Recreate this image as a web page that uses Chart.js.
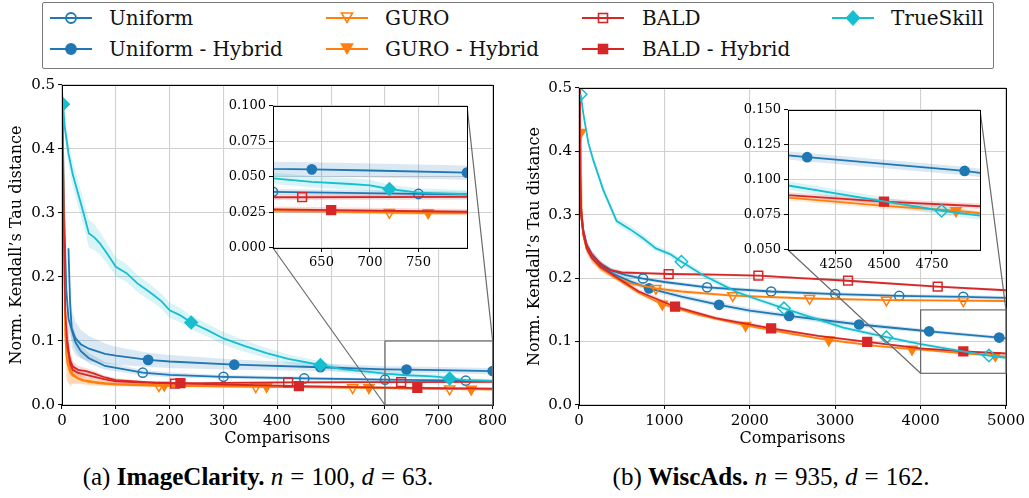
<!DOCTYPE html>
<html><head><meta charset="utf-8">
<script src="https://cdn.jsdelivr.net/npm/chart.js@4.4.1/dist/chart.umd.min.js"></script>
<style>
html,body{margin:0;padding:0;background:#fff;}
body{width:1029px;height:498px;overflow:hidden;position:relative;font-family:'DejaVu Serif',serif;}
canvas{position:absolute;}
#legend{position:absolute;left:42px;top:2px;width:952px;height:67px;border:1.3px solid #7a7a7a;box-sizing:border-box;border-radius:2px;background:#fff;}
.lgi{position:absolute;height:24px;display:flex;align-items:center;}
.lgt{position:absolute;font-family:'DejaVu Serif';font-size:20px;line-height:24px;color:#111;white-space:nowrap;}
.cap{position:absolute;top:463px;font-family:'Liberation Serif';font-size:25px;line-height:28px;white-space:nowrap;transform:translateX(-50%);color:#000;}
.eq{margin:0 0.28em;}
</style></head><body>
<div id="legend"></div>
<canvas id="icMain" style="left:0;top:72px" width="510" height="378"></canvas>
<canvas id="waMain" style="left:515px;top:72px" width="514" height="378"></canvas>
<canvas id="icInset" style="left:220px;top:95px" width="255" height="180"></canvas>
<canvas id="waInset" style="left:735px;top:99px" width="253" height="180"></canvas>
<div class="cap" style="left:258px">(a) <b>ImageClarity.</b> <i>n</i><span class="eq">=</span>100, <i>d</i><span class="eq">=</span>63.</div>
<div class="cap" style="left:771px">(b) <b>WiscAds.</b> <i>n</i><span class="eq">=</span>935, <i>d</i><span class="eq">=</span>162.</div>
<script>
// ---------- labels ----------
const SERIES_NAMES = ['Uniform','Uniform - Hybrid','GURO','GURO - Hybrid','BALD','BALD - Hybrid','TrueSkill'];
const X_TITLE = 'Comparisons';
const Y_TITLE = 'Norm. Kendall\u2019s Tau distance';

// ---------- ImageClarity (left) ----------
const IC_X_TICKS = [0,100,200,300,400,500,600,700,800];
const IC_Y_TICKS = [0,0.1,0.2,0.3,0.4,0.5];
const IC_INSET_X = [600,800];
const IC_INSET_Y = [0,0.1];
const IC_INSET_X_TICKS = [650,700,750];
const IC_INSET_Y_TICKS = [0,0.025,0.05,0.075,0.1];

const IC_UNIFORM_X = [0,4,8,12,18,25,35,50,80,150,200,300,450,600,750,800];
const IC_UNIFORM_Y = [0.50,0.30,0.18,0.135,0.117,0.098,0.084,0.073,0.061,0.0505,0.047,0.044,0.0415,0.0395,0.038,0.0378];
const IC_UNIFORM_SD = [0,0.03,0.025,0.02,0.015,0.012,0.01,0.008,0.006,0.004,0.004,0.003,0.003,0.002,0.002,0.002];
const IC_UNIFORM_MK = [150,300,450,600,750];

const IC_UNIHYB_X = [12,15,18,25,35,50,80,100,160,200,320,480,600,640,700,800];
const IC_UNIHYB_Y = [0.245,0.16,0.12,0.104,0.095,0.088,0.08,0.077,0.0705,0.068,0.063,0.059,0.0557,0.0553,0.0545,0.053];
const IC_UNIHYB_SD = [0.02,0.03,0.03,0.026,0.022,0.02,0.016,0.014,0.011,0.01,0.008,0.006,0.005,0.005,0.005,0.005];
const IC_UNIHYB_MK = [160,320,480,640,800];

const IC_GURO_X = [0,2,4,6,8,10,15,20,30,40,50,70,100,180,360,540,600,720,800];
const IC_GURO_Y = [0.50,0.40,0.22,0.11,0.08,0.065,0.052,0.046,0.041,0.038,0.036,0.034,0.032,0.030,0.0285,0.027,0.0265,0.025,0.0245];
const IC_GURO_SD = [0,0.05,0.06,0.05,0.04,0.03,0.02,0.012,0.008,0.006,0.005,0.004,0.003,0.002,0.002,0.0015,0.0015,0.0015,0.0015];
const IC_GURO_MK = [180,360,540,720];

const IC_GUROHYB_X = [8,10,15,20,30,40,60,80,100,190,380,570,600,760,800];
const IC_GUROHYB_Y = [0.12,0.09,0.058,0.048,0.042,0.039,0.036,0.034,0.033,0.031,0.029,0.0272,0.0265,0.0248,0.0245];
const IC_GUROHYB_SD = [0.05,0.05,0.03,0.015,0.008,0.006,0.005,0.004,0.003,0.002,0.002,0.0015,0.0015,0.0015,0.0015];
const IC_GUROHYB_MK = [190,380,570,760];

const IC_BALD_X = [0,3,6,10,15,20,30,45,60,80,100,150,210,300,420,600,630,800];
const IC_BALD_Y = [0.50,0.30,0.15,0.09,0.07,0.06,0.055,0.053,0.049,0.043,0.039,0.036,0.0335,0.0345,0.0355,0.0357,0.0357,0.036];
const IC_BALD_SD = [0,0.03,0.03,0.02,0.01,0.008,0.006,0.005,0.004,0.003,0.003,0.002,0.002,0.002,0.002,0.002,0.002,0.002];
const IC_BALD_MK = [210,420,630];

const IC_BALDHYB_X = [10,15,20,30,45,60,80,100,150,220,300,440,600,660,800];
const IC_BALDHYB_Y = [0.10,0.065,0.055,0.05,0.047,0.044,0.04,0.037,0.035,0.034,0.032,0.0295,0.0272,0.0267,0.0255];
const IC_BALDHYB_SD = [0.04,0.02,0.01,0.006,0.005,0.004,0.003,0.003,0.002,0.002,0.002,0.002,0.002,0.002,0.002];
const IC_BALDHYB_MK = [220,440,660];

const IC_TS_X = [2,5,12,20,30,40,50,60,70,85,100,120,140,160,170,185,200,220,240,270,300,340,380,420,480,520,566,600,640,680,700,720,750,800];
const IC_TS_Y = [0.47,0.435,0.393,0.36,0.33,0.30,0.268,0.262,0.253,0.235,0.216,0.206,0.19,0.178,0.172,0.162,0.148,0.14,0.129,0.117,0.104,0.092,0.081,0.072,0.0625,0.056,0.052,0.049,0.0465,0.045,0.044,0.0415,0.039,0.0378];
const IC_TS_SD = [0.01,0.015,0.018,0.02,0.02,0.02,0.022,0.02,0.018,0.016,0.015,0.014,0.013,0.013,0.012,0.012,0.012,0.011,0.011,0.01,0.01,0.009,0.008,0.007,0.006,0.005,0.005,0.004,0.004,0.004,0.004,0.003,0.003,0.003];
const IC_TS_MK = [2,240,480,720];

// ---------- WiscAds (right) ----------
const WA_X_TICKS = [0,1000,2000,3000,4000,5000];
const WA_Y_TICKS = [0,0.1,0.2,0.3,0.4,0.5];
const WA_INSET_X = [4000,5000];
const WA_INSET_Y = [0.05,0.15];
const WA_INSET_X_TICKS = [4250,4500,4750];
const WA_INSET_Y_TICKS = [0.05,0.075,0.1,0.125,0.15];

const WA_UNIFORM_X = [0,10,25,50,90,150,250,400,550,750,1000,1500,2250,3000,3750,4500,5000];
const WA_UNIFORM_Y = [0.50,0.38,0.31,0.276,0.253,0.238,0.223,0.211,0.205,0.1995,0.194,0.1856,0.179,0.175,0.172,0.1705,0.169];
const WA_UNIFORM_SD = [0,0.01,0.01,0.008,0.007,0.006,0.005,0.004,0.004,0.003,0.003,0.003,0.003,0.003,0.003,0.003,0.003];
const WA_UNIFORM_MK = [750,1500,2250,3000,3750,4500];

const WA_UNIHYB_X = [0,10,25,50,90,150,250,400,600,820,1200,1640,2000,2460,3280,4000,4100,4920,5000];
const WA_UNIHYB_Y = [0.50,0.37,0.30,0.272,0.25,0.235,0.221,0.207,0.195,0.184,0.171,0.158,0.149,0.1405,0.127,0.1175,0.1162,0.1064,0.105];
const WA_UNIHYB_SD = [0,0.01,0.01,0.008,0.007,0.006,0.005,0.004,0.004,0.004,0.004,0.004,0.004,0.004,0.004,0.003,0.003,0.003,0.003];
const WA_UNIHYB_MK = [820,1640,2460,3280,4100,4920];

const WA_GURO_X = [0,10,25,50,90,150,250,400,600,900,1200,1800,2700,3600,4500,5000];
const WA_GURO_Y = [0.50,0.37,0.30,0.27,0.248,0.232,0.217,0.203,0.192,0.184,0.179,0.1725,0.168,0.1655,0.1645,0.164];
const WA_GURO_SD = [0,0.01,0.01,0.008,0.007,0.006,0.005,0.004,0.003,0.003,0.003,0.002,0.002,0.002,0.002,0.002];
const WA_GURO_MK = [900,1800,2700,3600,4500];

const WA_GUROHYB_X = [20,30,50,90,150,250,480,700,975,1400,1950,2500,2925,3500,3900,4000,4500,4875,5000];
const WA_GUROHYB_Y = [0.43,0.30,0.268,0.246,0.232,0.216,0.196,0.177,0.159,0.142,0.1255,0.112,0.1025,0.093,0.088,0.0873,0.0815,0.078,0.0762];
const WA_GUROHYB_SD = [0.01,0.01,0.008,0.007,0.006,0.005,0.004,0.004,0.003,0.003,0.003,0.002,0.002,0.002,0.002,0.002,0.002,0.002,0.002];
const WA_GUROHYB_MK = [20,975,1950,2925,3900,4875];

const WA_BALD_X = [0,10,25,50,90,150,207,280,363,500,750,1050,1600,2100,2600,3150,4200,5000];
const WA_BALD_Y = [0.50,0.38,0.31,0.275,0.252,0.237,0.229,0.22,0.213,0.209,0.208,0.2066,0.2055,0.204,0.2,0.196,0.1866,0.181];
const WA_BALD_SD = [0,0.01,0.01,0.008,0.007,0.006,0.005,0.004,0.003,0.003,0.002,0.002,0.002,0.002,0.002,0.002,0.002,0.002];
const WA_BALD_MK = [1050,2100,3150,4200];

const WA_BALDHYB_X = [0,10,25,50,90,150,250,480,700,1125,1600,2250,2800,3375,4000,4500,5000];
const WA_BALDHYB_Y = [0.50,0.37,0.30,0.27,0.247,0.232,0.218,0.198,0.179,0.155,0.137,0.121,0.109,0.0995,0.0892,0.0845,0.0812];
const WA_BALDHYB_SD = [0,0.01,0.01,0.009,0.008,0.007,0.006,0.004,0.004,0.003,0.003,0.003,0.002,0.002,0.002,0.002,0.002];
const WA_BALDHYB_MK = [1125,2250,3375,4500];

const WA_TS_X = [20,50,110,170,285,441,600,750,900,1066,1200,1450,1850,2100,2400,2705,3095,3600,4000,4461,4800,5000];
const WA_TS_Y = [0.49,0.46,0.413,0.385,0.339,0.29,0.277,0.263,0.247,0.238,0.226,0.205,0.178,0.166,0.1525,0.139,0.122,0.107,0.096,0.0855,0.078,0.0745];
const WA_TS_SD = [0.003,0.004,0.005,0.006,0.006,0.006,0.006,0.006,0.005,0.005,0.005,0.005,0.004,0.004,0.004,0.004,0.004,0.003,0.003,0.003,0.003,0.003];
const WA_TS_MK = [20,1200,2400,3600,4800];

// ---------- styles ----------
const FONT = 'DejaVu Serif';
const BLUE = '#1f77b4', ORANGE = '#ff7f0e', RED = '#d62728', CYAN = '#17becf';
const STYLE = [
  {color:BLUE, shape:'circle', rot:0, filled:false, r:4.6},
  {color:BLUE, shape:'circle', rot:0, filled:true, r:4.6},
  {color:ORANGE, shape:'triangle', rot:180, filled:false, r:5.8},
  {color:ORANGE, shape:'triangle', rot:180, filled:true, r:5.8},
  {color:RED, shape:'rect', rot:0, filled:false, r:6.2},
  {color:RED, shape:'rect', rot:0, filled:true, r:6.2},
  {color:CYAN, shape:'rectRot', rot:0, filled:true, r:6.2}
];

const IC_SERIES = [
  [IC_UNIFORM_X, IC_UNIFORM_Y, IC_UNIFORM_SD, IC_UNIFORM_MK],
  [IC_UNIHYB_X, IC_UNIHYB_Y, IC_UNIHYB_SD, IC_UNIHYB_MK],
  [IC_GURO_X, IC_GURO_Y, IC_GURO_SD, IC_GURO_MK],
  [IC_GUROHYB_X, IC_GUROHYB_Y, IC_GUROHYB_SD, IC_GUROHYB_MK],
  [IC_BALD_X, IC_BALD_Y, IC_BALD_SD, IC_BALD_MK],
  [IC_BALDHYB_X, IC_BALDHYB_Y, IC_BALDHYB_SD, IC_BALDHYB_MK],
  [IC_TS_X, IC_TS_Y, IC_TS_SD, IC_TS_MK]
];
const WA_SERIES = [
  [WA_UNIFORM_X, WA_UNIFORM_Y, WA_UNIFORM_SD, WA_UNIFORM_MK],
  [WA_UNIHYB_X, WA_UNIHYB_Y, WA_UNIHYB_SD, WA_UNIHYB_MK],
  [WA_GURO_X, WA_GURO_Y, WA_GURO_SD, WA_GURO_MK],
  [WA_GUROHYB_X, WA_GUROHYB_Y, WA_GUROHYB_SD, WA_GUROHYB_MK],
  [WA_BALD_X, WA_BALD_Y, WA_BALD_SD, WA_BALD_MK],
  [WA_BALDHYB_X, WA_BALDHYB_Y, WA_BALDHYB_SD, WA_BALDHYB_MK],
  [WA_TS_X, WA_TS_Y, WA_TS_SD, WA_TS_MK]
];

function alpha(hex, a){
  const n = parseInt(hex.slice(1),16);
  return `rgba(${(n>>16)&255},${(n>>8)&255},${n&255},${a})`;
}

function buildDatasets(series, hollowTS){
  const lines = [], bands = [];
  series.forEach((s, i) => {
    const [xs, ys, sds, mk] = s;
    const st = STYLE[i];
    const filled = (i === 6 && hollowTS) ? false : st.filled;
    lines.push({
      label: SERIES_NAMES[i],
      data: xs.map((x, k) => ({x, y: ys[k]})),
      borderColor: st.color, borderWidth: 1.8,
      pointStyle: st.shape, pointRotation: st.rot,
      pointBorderColor: st.color, pointBorderWidth: 1.5,
      pointBackgroundColor: filled ? st.color : 'rgba(0,0,0,0)',
      pointRadius: ctx => (ctx.raw && mk.includes(ctx.raw.x)) ? st.r : 0,
      pointHoverRadius: ctx => (ctx.raw && mk.includes(ctx.raw.x)) ? st.r : 0,
      pointHitRadius: 0,
      fill: false, tension: 0, clip: 0, order: 6 - i
    });
    bands.push({
      data: xs.map((x, k) => ({x, y: ys[k] + sds[k]})),
      borderWidth: 0, pointRadius: 0, backgroundColor: alpha(st.color, 0.17),
      fill: '+1', tension: 0, clip: 0, order: 20
    });
    bands.push({
      data: xs.map((x, k) => ({x, y: ys[k] - sds[k]})),
      borderWidth: 0, pointRadius: 0, backgroundColor: 'rgba(0,0,0,0)',
      fill: false, tension: 0, clip: 0, order: 20
    });
  });
  return lines.concat(bands);
}

Chart.defaults.font.family = FONT;
Chart.defaults.color = '#000';

const framePlugin = {
  id: 'frame',
  beforeDraw(chart, args, opts){
    if (opts.white){
      const a = chart.chartArea, c = chart.ctx;
      c.save(); c.fillStyle = '#fff'; c.fillRect(a.left, a.top, a.right - a.left, a.bottom - a.top); c.restore();
    }
  },
  afterDatasetsDraw(chart){
    const a = chart.chartArea, c = chart.ctx;
    c.save(); c.strokeStyle = '#000'; c.lineWidth = 1;
    c.strokeRect(Math.round(a.left) + 0.5, Math.round(a.top) + 0.5, Math.round(a.right - a.left), Math.round(a.bottom - a.top));
    c.restore();
  }
};

function zoomPlugin(inset, bx, by){
  return {
    id: 'zoomBox',
    afterDatasetsDraw(chart){
      const c = chart.ctx, sx = chart.scales.x, sy = chart.scales.y;
      const X0 = sx.getPixelForValue(bx[0]), X1 = sx.getPixelForValue(bx[1]);
      const Y0 = sy.getPixelForValue(by[0]), Y1 = sy.getPixelForValue(by[1]);
      const mr = chart.canvas.getBoundingClientRect(), ir = inset.canvas.getBoundingClientRect();
      const dx = ir.left - mr.left, dy = ir.top - mr.top, ia = inset.chartArea;
      c.save(); c.strokeStyle = '#6a6a6a'; c.lineWidth = 1.2;
      c.strokeRect(X0, Y1, X1 - X0, Y0 - Y1);
      c.beginPath();
      c.moveTo(ia.left + dx, ia.bottom + dy); c.lineTo(X0, Y0);
      c.moveTo(ia.right + dx, ia.top + dy); c.lineTo(X1, Y1);
      c.stroke(); c.restore();
    }
  };
}

function makeChart(id, series, o){
  const cfg = {
    type: 'line',
    data: { datasets: buildDatasets(series, o.hollowTS) },
    options: {
      responsive: false, animation: false, events: [],
      layout: { padding: o.pad },
      plugins: { legend: {display:false}, tooltip: {enabled:false}, frame: {white: !!o.white} },
      scales: {
        x: {
          type: 'linear', min: o.xr[0], max: o.xr[1],
          afterBuildTicks: s => { s.ticks = o.xt.map(v => ({value: v})); },
          afterFit: s => { s.height = o.xh; },
          ticks: { font: {family: FONT, size: o.fs}, padding: 3, maxRotation: 0, autoSkip: false, callback: v => String(v) },
          grid: { color: '#d0d0d0', lineWidth: 1.1, tickColor: '#000', tickLength: 4, tickWidth: 1 },
          border: { display: false },
          title: o.xtitle ? { display: true, text: X_TITLE, font: {family: FONT, size: 16}, padding: {top: 0, bottom: 2} } : {display:false}
        },
        y: {
          min: o.yr[0], max: o.yr[1],
          afterBuildTicks: s => { s.ticks = o.yt.map(v => ({value: v})); },
          afterFit: s => { s.width = o.yw; },
          ticks: { font: {family: FONT, size: o.fs}, padding: 3, autoSkip: false, callback: v => v.toFixed(o.yd) },
          grid: { color: '#d0d0d0', lineWidth: 1.1, tickColor: '#000', tickLength: 4, tickWidth: 1 },
          border: { display: false },
          title: o.ytitle ? { display: true, text: Y_TITLE, font: {family: FONT, size: 16}, padding: {top: o.ytp, bottom: 0} } : {display:false}
        }
      }
    },
    plugins: [framePlugin].concat(o.extra || [])
  };
  return new Chart(document.getElementById(id), cfg);
}

const icInset = makeChart('icInset', IC_SERIES, {
  pad: {left:0, top:8, right:8, bottom:0}, xr: IC_INSET_X, yr: IC_INSET_Y,
  xt: IC_INSET_X_TICKS, yt: IC_INSET_Y_TICKS, xh: 27, yw: 53, fs: 13, yd: 3, white: true
});
const waInset = makeChart('waInset', WA_SERIES, {
  pad: {left:0, top:8, right:8, bottom:0}, xr: WA_INSET_X, yr: WA_INSET_Y,
  xt: WA_INSET_X_TICKS, yt: WA_INSET_Y_TICKS, xh: 29, yw: 53, fs: 13, yd: 3, white: true, hollowTS: true
});
makeChart('icMain', IC_SERIES, {
  pad: {left:0, top:13, right:17, bottom:0}, xr: [0,800], yr: [0,0.5],
  xt: IC_X_TICKS, yt: IC_Y_TICKS, xh: 45, yw: 62, fs: 15, yd: 1, xtitle: true, ytitle: true, ytp: 7,
  extra: [zoomPlugin(icInset, IC_INSET_X, IC_INSET_Y)]
});
makeChart('waMain', WA_SERIES, {
  pad: {left:0, top:16, right:23, bottom:0}, xr: [0,5000], yr: [0,0.5],
  xt: WA_X_TICKS, yt: WA_Y_TICKS, xh: 45, yw: 64, fs: 15, yd: 1, xtitle: true, ytitle: true, ytp: 10, hollowTS: true,
  extra: [zoomPlugin(waInset, WA_INSET_X, WA_INSET_Y)]
});

// ---------- legend ----------
const LEG_COL_ICON = [50, 326, 582, 832];
const LEG_COL_TEXT = [109, 385, 642, 891];
const LEG_ROW_Y = [18, 49];
function iconSvg(i){
  const st = STYLE[i], c = st.color, f = st.filled ? c : '#fff';
  let m = '';
  if (st.shape === 'circle') m = `<circle cx="21" cy="10" r="5" fill="${f}" stroke="${c}" stroke-width="1.8"/>`;
  else if (st.shape === 'triangle') m = `<polygon points="15.5,5 26.5,5 21,14.5" fill="${f}" stroke="${c}" stroke-width="1.6"/>`;
  else if (st.shape === 'rect') m = `<rect x="16.5" y="5.5" width="9" height="9" fill="${f}" stroke="${c}" stroke-width="1.6"/>`;
  else m = `<polygon points="21,2.5 28,10 21,17.5 14,10" fill="${c}" stroke="${c}" stroke-width="1"/>`;
  let inner = '';
  if (!st.filled && st.shape !== 'rectRot') {
    const a = st.shape === 'circle' ? 16 : (st.shape === 'rect' ? 16.5 : 15.5);
    inner = `<line x1="${a}" y1="10" x2="${42 - a}" y2="10" stroke="${c}" stroke-width="2"/>`;
  }
  return `<svg width="44" height="20" viewBox="0 0 44 20"><line x1="0" y1="10" x2="42" y2="10" stroke="${c}" stroke-width="2.2"/>${m}${inner}</svg>`;
}
SERIES_NAMES.forEach((name, i) => {
  const col = i === 6 ? 3 : Math.floor(i / 2), row = i === 6 ? 0 : i % 2;
  const ic = document.createElement('div');
  ic.className = 'lgi'; ic.style.left = LEG_COL_ICON[col] + 'px'; ic.style.top = (LEG_ROW_Y[row] - 12) + 'px';
  ic.innerHTML = iconSvg(i);
  document.body.appendChild(ic);
  const t = document.createElement('div');
  t.className = 'lgt'; t.style.left = LEG_COL_TEXT[col] + 'px'; t.style.top = (LEG_ROW_Y[row] - 12) + 'px';
  t.textContent = name;
  document.body.appendChild(t);
});
</script>
</body></html>
